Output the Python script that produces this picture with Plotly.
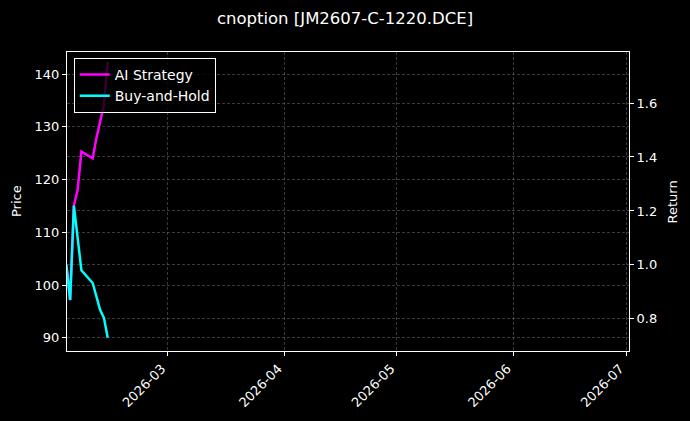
import plotly.graph_objects as go

dates = ["2026-02-02", "2026-02-03", "2026-02-04", "2026-02-05", "2026-02-06",
         "2026-02-09", "2026-02-10", "2026-02-11", "2026-02-12", "2026-02-13"]
price = [118.0, 103.5, 141.6, 130.0, 116.9, 110.8, 105.3, 99.5, 96.6, 90.1]
ai_strategy = [1.0, 0.87, 1.22, 1.278, 1.42, 1.395, 1.47, 1.537, 1.593, 1.752]
buy_hold = [1.0, 0.87, 1.22, 1.10, 0.98, 0.933, 0.881, 0.833, 0.804, 0.730]

month_ticks = ["2026-03-01", "2026-04-01", "2026-05-01", "2026-06-01", "2026-07-01"]
month_labels = ["2026-03", "2026-04", "2026-05", "2026-06", "2026-07"]
price_ticks = [90, 100, 110, 120, 130, 140]
return_ticks = [0.8, 1.0, 1.2, 1.4, 1.6]

FONT = "DejaVu Sans"

fig = go.Figure()
fig.add_trace(go.Scatter(x=dates, y=price, mode="lines", name="Price",
                         line=dict(color="rgba(255,0,0,0.06)", width=1),
                         showlegend=False, yaxis="y"))
fig.add_trace(go.Scatter(x=dates, y=ai_strategy, mode="lines", name="AI Strategy",
                         line=dict(color="#ff00ff", width=2.5), yaxis="y2"))
fig.add_trace(go.Scatter(x=dates, y=buy_hold, mode="lines", name="Buy-and-Hold",
                         line=dict(color="#00ffff", width=2.5), yaxis="y2"))

grid = dict(showgrid=True, gridcolor="rgba(128,128,128,0.45)", griddash="3px,2px", gridwidth=0.6)
axis_common = dict(showline=True, linecolor="white", linewidth=1, ticks="outside",
                   ticklen=4, tickcolor="white", tickfont=dict(color="white", size=13, family=FONT),
                   zeroline=False, automargin=False)

fig.update_layout(
    width=690, height=421,
    paper_bgcolor="black", plot_bgcolor="black",
    margin=dict(l=66.5, r=61, t=52, b=70, autoexpand=False),
    font=dict(family=FONT, color="white", size=13),
    title=dict(text="cnoption [JM2607-C-1220.DCE]", x=0.5, xanchor="center",
               y=1 - 18 / 421, yanchor="middle", yref="container",
               font=dict(size=16.5, color="white", family=FONT)),
    xaxis=dict(type="date", range=["2026-02-02 04:00", "2026-07-01 19:00"],
               tickvals=month_ticks, ticktext=month_labels, tickangle=-45,
               ticklabelshift=-6, mirror=True, **grid, **axis_common),
    yaxis=dict(range=[87.5, 144.2], tickvals=price_ticks, side="left",
               mirror=False, **grid, **axis_common),
    yaxis2=dict(range=[0.681, 1.789], tickvals=return_ticks, tickformat=".1f",
                overlaying="y", side="right", **grid, **axis_common),
    legend=dict(x=0.012, y=0.98, xanchor="left", yanchor="top",
                bgcolor="rgba(0,0,0,0.8)", bordercolor="white", borderwidth=1,
                font=dict(color="white", size=14, family=FONT),
                tracegroupgap=0, itemwidth=30),
    showlegend=True,
    annotations=[
        dict(text="Price", x=(16 - 66.5) / 562.5, y=0.5, xref="paper", yref="paper",
             textangle=-90, showarrow=False, xanchor="center", yanchor="middle",
             font=dict(size=13, color="white", family=FONT)),
        dict(text="Return", x=(673 - 66.5) / 562.5, y=0.5, xref="paper", yref="paper",
             textangle=-90, showarrow=False, xanchor="center", yanchor="middle",
             font=dict(size=13, color="white", family=FONT)),
    ],
)

fig.write_html("out.html", config={"displayModeBar": False},
               post_script="document.body.style.margin='0';document.body.style.background='black';")
